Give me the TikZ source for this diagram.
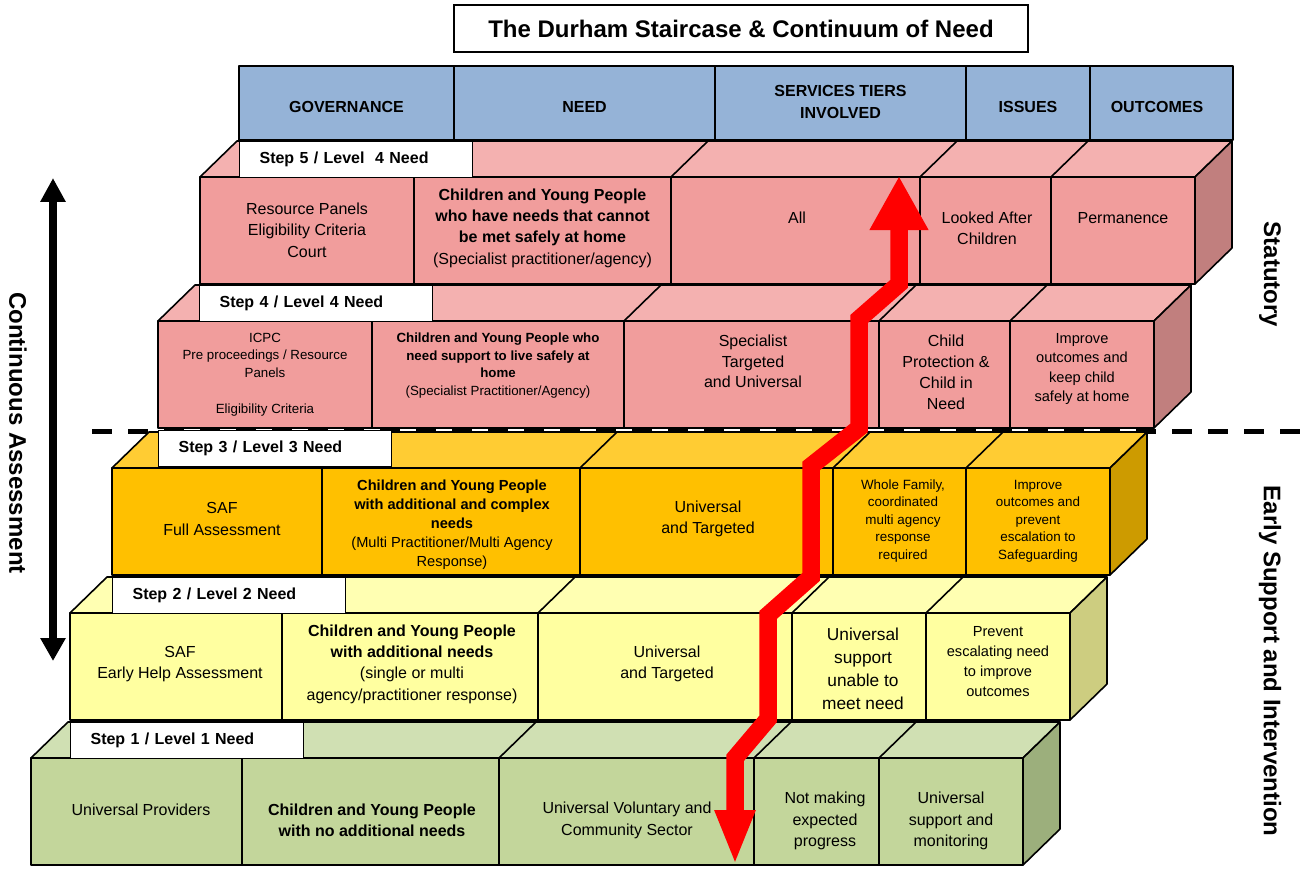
\documentclass[tikz,border=0pt]{standalone}
\usepackage{fontspec}
\setmainfont{Liberation Sans}
\usetikzlibrary{arrows.meta}
\definecolor{headblue}{HTML}{95B3D7}
\definecolor{pinkfront}{HTML}{F19D9C}
\definecolor{pinktop}{HTML}{F4B1B0}
\definecolor{pinkside}{HTML}{C17F7E}
\definecolor{ambfront}{HTML}{FFC000}
\definecolor{ambtop}{HTML}{FFCC33}
\definecolor{ambside}{HTML}{CD9B00}
\definecolor{yelfront}{HTML}{FFFFA0}
\definecolor{yeltop}{HTML}{FFFFB2}
\definecolor{yelside}{HTML}{CDCD80}
\definecolor{grnfront}{HTML}{C3D69B}
\definecolor{grntop}{HTML}{D0E0B3}
\definecolor{grnside}{HTML}{9CAF7C}
\definecolor{arrowred}{HTML}{FF0000}
\newcommand{\fsz}[2]{\fontsize{#1}{#2}\selectfont}

\begin{document}
\begin{tikzpicture}[x=1pt, y=-1pt,
        face/.style={draw=black, line width=1.6pt, line join=round},
        cell/.style={align=center, inner sep=0pt, font=\fsz{16}{21.3}},
        headcell/.style={align=center, inner sep=0pt, font=\bfseries\fsz{16}{22}},
        steplabel/.style={draw=black, fill=white, line width=1.2pt, anchor=north west,
            text width=193pt, inner xsep=20pt, inner ysep=0pt, minimum height=36pt,
            align=left, font=\bfseries\fsz{16}{19}},
        sidetitle/.style={rotate=-90, inner sep=0pt, font=\bfseries\fsz{24}{28}}]
            \useasboundingbox (0,0) rectangle (1314,869);
            \draw[line width=5pt, dash pattern=on 20pt off 16pt] (92,431) -- (1310,431);

            \node[draw, line width=1.6pt, minimum width=574pt, minimum height=47pt, inner sep=0pt,
                font=\bfseries\fsz{24}{28}] (title) at (741,28.5) {The Durham Staircase \& Continuum of Need};

            \draw[face, fill=headblue] (239,66) rectangle (1233,140);
            \foreach \x in {454,715,966,1090} \draw[face] (\x,66) -- (\x,140);
            \node[headcell] (gov) at (346.5,107) {GOVERNANCE};
            \node[headcell] (need) at (584.5,107) {NEED};
            \node[headcell] (serv) at (840.5,102) {SERVICES TIERS\\INVOLVED};
            \node[headcell] (iss) at (1028,107) {ISSUES};
            \node[headcell] (out) at (1157,107) {OUTCOMES};

            \foreach \L/\T/\R/\a/\b/\c/\d/\fc/\tc/\sc in {
                    200/177/1195/414/671/920/1051/pinkfront/pinktop/pinkside,
                    158/321/1154/372/624/879/1010/pinkfront/pinktop/pinkside,
                    112/468/1110/322/580/833/966/ambfront/ambtop/ambside,
                    70/613/1070/282/538/792/926/yelfront/yeltop/yelside,
                    31/758/1023/242/499/754/879/grnfront/grntop/grnside} {
                \draw[face, fill=\tc] (\L,\T) -- ({\L+37},{\T-36}) -- ({\R+37},{\T-36}) -- (\R,\T) -- cycle;
                \draw[face, fill=\sc] (\R,\T) -- ({\R+37},{\T-36}) -- ({\R+37},{\T+71}) -- (\R,{\T+107}) -- cycle;
                \draw[face, fill=\fc] (\L,\T) rectangle (\R,{\T+107});
                \foreach \x in {\a,\b,\c,\d}
                    \draw[face] (\x,{\T+107}) -- (\x,\T) -- ({\x+37},{\T-36});
            }

            \node[steplabel] (lab5) at (239,141) {Step 5 / Level\ \ 4 Need};
            \node[steplabel] (lab4) at (199,285) {Step 4 / Level 4 Need};
            \node[steplabel] (lab3) at (158,430) {Step 3 / Level 3 Need};
            \node[steplabel] (lab2) at (112,577) {Step 2 / Level 2 Need};
            \node[steplabel] (lab1) at (70,722) {Step 1 / Level 1 Need};

            \node[cell] (gov5) at (307,230) {Resource Panels\\Eligibility Criteria\\Court};
            \node[cell, font=\bfseries\fsz{16}{21.3}] (need5) at (542.5,228) {Children and Young People\\who have needs that cannot\\be met safely at home\\\textmd{(Specialist practitioner/agency)}};
            \node[cell] (serv5) at (797,218) {All};
            \node[cell] (iss5) at (987,228) {Looked After\\Children};
            \node[cell] (out5) at (1123,218) {Permanence};

            \node[cell, font=\fsz{13.3}{17.8}] (gov4) at (265,374.5) {ICPC\\Pre proceedings / Resource\\Panels\\[17.8pt]Eligibility Criteria};
            \node[cell, font=\bfseries\fsz{13.3}{17.8}] (need4) at (498,365.5) {Children and Young People who\\need support to live safely at\\home\\\textmd{(Specialist Practitioner/Agency)}};
            \node[cell, font=\fsz{16}{20.7}] (serv4) at (753,361.5) {Specialist\\Targeted\\and Universal};
            \node[cell, font=\fsz{16}{21}] (iss4) at (946,372.5) {Child\\Protection \&\\Child in\\Need};
            \node[cell, font=\fsz{14.6}{19.3}] (out4) at (1082,369) {Improve\\outcomes and\\keep child\\safely at home};

            \node[cell] (gov3) at (222,519) {SAF\\Full Assessment};
            \node[cell, font=\bfseries\fsz{14.6}{19}] (need3) at (452,524.5) {Children and Young People\\with additional and complex\\needs\\\textmd{(Multi Practitioner/Multi Agency}\\\textmd{Response)}};
            \node[cell] (serv3) at (708,519) {Universal\\and Targeted};
            \node[cell, font=\fsz{13.4}{17.5}] (iss3) at (903,521) {Whole Family,\\coordinated\\multi agency\\response\\required};
            \node[cell, font=\fsz{13.4}{17.5}] (out3) at (1038,521) {Improve\\outcomes and\\prevent\\escalation to\\Safeguarding};

            \node[cell] (gov2) at (180,664) {SAF\\Early Help Assessment};
            \node[cell, font=\bfseries\fsz{16}{21.3}] (need2) at (412,664) {Children and Young People\\with additional needs\\\textmd{(single or multi}\\\textmd{agency/practitioner response)}};
            \node[cell] (serv2) at (667,664) {Universal\\and Targeted};
            \node[cell, font=\fsz{17.3}{23}] (iss2) at (863,668.5) {Universal\\support\\unable to\\meet need};
            \node[cell, font=\fsz{14.6}{19.7}] (out2) at (998,661.5) {Prevent\\escalating need\\to improve\\outcomes};

            \node[cell] (gov1) at (141,810) {Universal Providers};
            \node[cell, font=\bfseries\fsz{16}{21.3}] (need1) at (372,820.5) {Children and Young People\\with no additional needs};
            \node[cell] (serv1) at (627,820.5) {Universal Voluntary and\\Community Sector};
            \node[cell] (iss1) at (825,821) {Not making\\expected\\progress};
            \node[cell] (out1) at (951,821) {Universal\\support and\\monitoring};

            \node[sidetitle] (stat) at (1270,274.5) {Statutory};
            \node[sidetitle] (early) at (1270,661) {Early Support and Intervention};
            \node[sidetitle] (cont) at (18,433) {Continuous Assessment};

            \coordinate (catop) at (53,178);
            \coordinate (cabot) at (53,661);
            \draw[line width=8pt, {Triangle[length=24pt,width=24pt]}-{Triangle[length=23pt,width=24pt]}] (catop) -- (cabot);

            \coordinate (rtop) at (899,176);
            \coordinate (rbot) at (735,865);
            \draw[arrowred, line width=17.5pt, {Triangle[length=54pt,width=55pt]}-{Triangle[length=55pt,width=37pt]}]
                (rtop) -- (899,284) -- (859,319) -- (859,428) -- (811,466) -- (811,577)
                -- (768,615) -- (768,719) -- (735,758) -- (rbot);
        \end{tikzpicture}
\end{document}
